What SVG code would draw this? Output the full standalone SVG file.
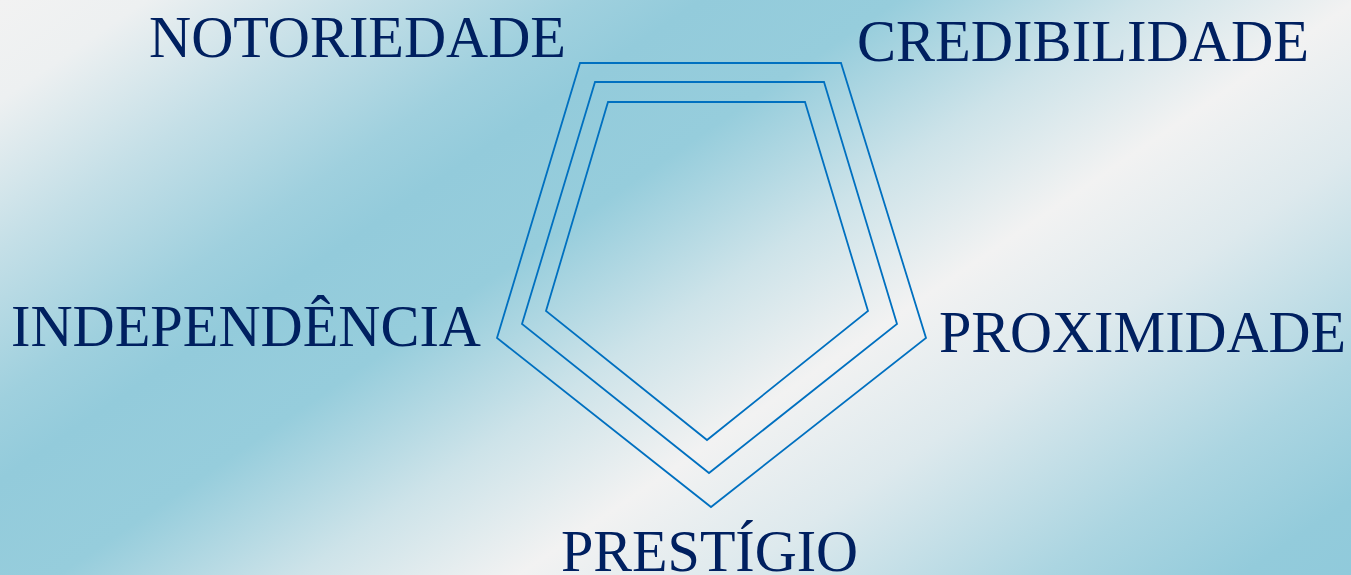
<svg xmlns="http://www.w3.org/2000/svg" width="1351" height="575" viewBox="0 0 1351 575">
  <defs>
    <linearGradient id="bg" gradientUnits="userSpaceOnUse" x1="0" y1="0" x2="699" y2="1021">
      <stop offset="0" stop-color="#f2f2f2"/>
      <stop offset="0.067" stop-color="#edf0f1"/>
      <stop offset="0.167" stop-color="#c4dfe7"/>
      <stop offset="0.267" stop-color="#9fd0de"/>
      <stop offset="0.32" stop-color="#93cbdb"/>
      <stop offset="0.41" stop-color="#96cddc"/>
      <stop offset="0.52" stop-color="#cde3e9"/>
      <stop offset="0.62" stop-color="#f2f2f2"/>
      <stop offset="0.72" stop-color="#dde9ed"/>
      <stop offset="0.86" stop-color="#abd5e1"/>
      <stop offset="0.95" stop-color="#93cbdb"/>
      <stop offset="1" stop-color="#90cadb"/>
    </linearGradient>
  </defs>
  <style>
    .lbl { font-family: "Liberation Serif", "Times New Roman", serif; font-size: 60px; fill: #002060; }
    .pent { fill: none; stroke: #0070c0; stroke-width: 1.8; stroke-linejoin: miter; }
  </style>
  <rect x="0" y="0" width="1351" height="575" fill="url(#bg)"/>
  <g id="connectors">
    <polygon class="pent" points="580,63 841,63 926,338 711,507 497,338"/>
    <polygon class="pent" points="595,82 824,82 897,324 709,473 522,324"/>
    <polygon class="pent" points="608,102 805,102 868,311 707,440 546,311"/>
  </g>
  <g id="notoriedade"><text class="lbl" x="149" y="57" textLength="417" lengthAdjust="spacingAndGlyphs">NOTORIEDADE</text></g>
  <g id="credibilidade"><text class="lbl" x="857" y="61" textLength="452" lengthAdjust="spacingAndGlyphs">CREDIBILIDADE</text></g>
  <g id="independencia"><text class="lbl" x="11" y="346" textLength="470" lengthAdjust="spacingAndGlyphs">INDEPENDÊNCIA</text></g>
  <g id="proximidade"><text class="lbl" x="939" y="352" textLength="407" lengthAdjust="spacingAndGlyphs">PROXIMIDADE</text></g>
  <g id="prestigio"><text class="lbl" x="561" y="571" textLength="297" lengthAdjust="spacingAndGlyphs">PRESTÍGIO</text></g>
</svg>
